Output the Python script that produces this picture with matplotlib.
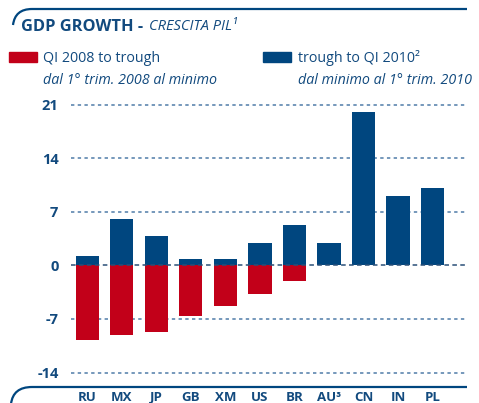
import matplotlib
matplotlib.use("Agg")
import matplotlib.pyplot as plt
from matplotlib.path import Path
from matplotlib.patches import PathPatch

countries = ["RU", "MX", "JP", "GB", "XM", "US", "BR", "AU³", "CN", "IN", "PL"]
decline = [-9.8, -9.1, -8.7, -6.6, -5.3, -3.8, -2.1, 0.0, 0.0, 0.0, 0.0]
recovery = [1.2, 6.0, 3.9, 0.8, 0.8, 2.9, 5.3, 2.9, 20.0, 9.1, 10.1]
yticks = [-14, -7, 0, 7, 14, 21]

RED = "#c20019"
BLUE = "#00467f"
TXT = "#124a7e"
GRID = "#4f7ca8"

plt.rcParams['font.family'] = ['Open Sans', 'DejaVu Sans']

W, H = 479, 403
fig = plt.figure(figsize=(W / 100, H / 100), dpi=100)

def fx(px):
    return px / W

def fy(py):
    return 1 - py / H

ax = fig.add_axes([fx(71), fy(372.5), fx(467) - fx(71), fy(104.7) - fy(372.5)])
x = list(range(len(countries)))
ax.bar(x, decline, width=0.667, color=RED, zorder=2)
ax.bar(x, recovery, width=0.667, color=BLUE, zorder=2)
ax.set_xlim(-0.478, 11.0)
ax.set_ylim(-14, 21)
for t in yticks:
    if t == 0:
        ax.axhline(t, color="#2a4f78", lw=1.1, ls=(0, (3, 2.2)), zorder=3, clip_on=False)
    else:
        ax.axhline(t, color=GRID, lw=1.1, ls=(0, (2.2, 2.2)), zorder=1, clip_on=False)
for s in ax.spines.values():
    s.set_visible(False)
ax.set_yticks(yticks)
ax.set_yticklabels([str(t) for t in yticks], fontsize=10.5, fontweight="bold", color=TXT)
ax.tick_params(axis="y", length=0, pad=9)
ax.set_xticks(x)
ax.set_xticklabels(countries, fontsize=9.5, fontweight="bold", color=TXT)
ax.tick_params(axis="x", length=0, pad=13)

# title
fig.text(fx(21), fy(27), "GDP GROWTH - ", fontsize=11.8, fontweight="bold", color=TXT, va="center", ha="left")
fig.text(fx(149), fy(27), "CRESCITA PIL¹", fontsize=10.5, style="italic", color=TXT, va="center", ha="left")

# legend
fig.add_artist(plt.Rectangle((fx(9), fy(62)), fx(37) - fx(9), fy(52) - fy(62), color=RED, transform=fig.transFigure))
fig.add_artist(plt.Rectangle((fx(263), fy(62)), fx(291) - fx(263), fy(52) - fy(62), color=BLUE, transform=fig.transFigure))
fig.text(fx(43), fy(58), "QI 2008 to trough", fontsize=10.3, color=TXT, va="center", ha="left")
fig.text(fx(43), fy(80), "dal 1° trim. 2008 al minimo", fontsize=10.3, style="italic", color=TXT, va="center", ha="left")
fig.text(fx(298), fy(58), "trough to QI 2010²", fontsize=10.3, color=TXT, va="center", ha="left")
fig.text(fx(298), fy(80), "dal minimo al 1° trim. 2010", fontsize=10.3, style="italic", color=TXT, va="center", ha="left")

# decorative frame lines
top = Path([(fx(13), fy(25)), (fx(15), fy(9)), (fx(32), fy(9)), (fx(467), fy(9))],
           [Path.MOVETO, Path.CURVE3, Path.CURVE3, Path.LINETO])
bot = Path([(fx(11), fy(404)), (fx(13), fy(387)), (fx(32), fy(387)), (fx(467), fy(387))],
           [Path.MOVETO, Path.CURVE3, Path.CURVE3, Path.LINETO])
for p in (top, bot):
    fig.add_artist(PathPatch(p, fill=False, edgecolor=BLUE, lw=1.6, transform=fig.transFigure))

fig.savefig("out.png", dpi=100)
